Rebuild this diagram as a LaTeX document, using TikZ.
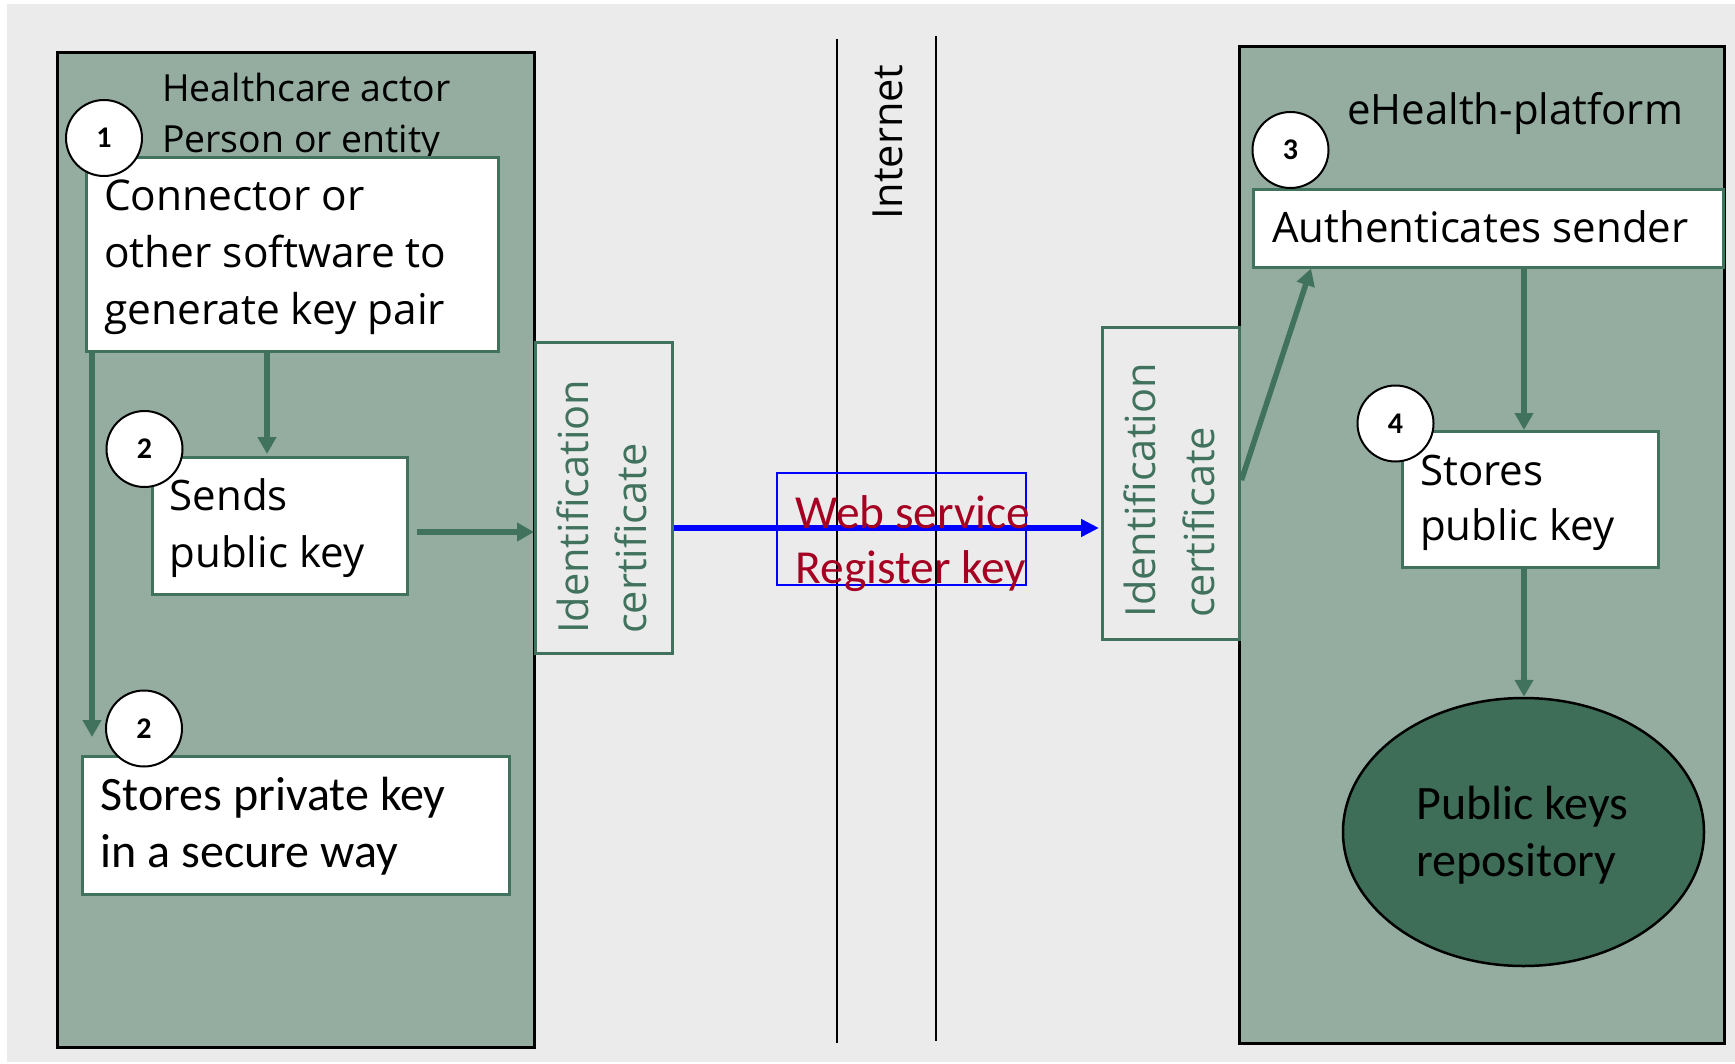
\documentclass[tikz,border=0pt]{standalone}
\usepackage{fontspec}
\setmainfont{Open Sans}
\newfontfamily\calfont{Carlito}
\usetikzlibrary{arrows.meta,shapes.geometric}
\definecolor{bgc}{HTML}{EBEBEB}
\definecolor{sage}{HTML}{95ADA1}
\definecolor{gline}{HTML}{41725E}
\definecolor{dgreen}{HTML}{3E6E58}
\definecolor{wred}{HTML}{A50021}
\newcommand\fl[1]{\rule{0pt}{#1pt}}
\begin{document}
\begin{tikzpicture}[x=1pt,y=-1pt,
 bigbox/.style={rectangle, draw=black, line width=2.5pt, fill=sage, anchor=north west, inner sep=0pt},
 wbox/.style={rectangle, draw=gline, line width=2.5pt, fill=white, anchor=north west, inner sep=0pt},
 idbox/.style={rectangle, draw=gline, line width=2.5pt, fill=bgc, anchor=north west, inner sep=0pt},
 num/.style={circle, draw=black, line width=2pt, fill=white, minimum size=76pt, inner sep=0pt, font=\calfont\bfseries\fontsize{30}{32}\selectfont},
 ml/.style={anchor=north west, inner sep=0pt, align=left},
 sl/.style={anchor=base west, inner sep=0pt},
 seg/.style={font=\fontsize{42}{57}\selectfont},
 garrow/.style={draw=gline, line width=5.5pt, -{Triangle[length=17pt,width=18pt]}},
 barrow/.style={draw=blue, line width=6pt, -{Triangle[length=18pt,width=17pt]}},
]
\useasboundingbox (0,0) rectangle (1735,1063);
\fill[white] (0,0) rectangle (1735,1063);
\fill[bgc] (7,4) rectangle (1735,1062);

% big boxes
\node[bigbox, minimum width=477pt, minimum height=995pt] (hc) at (56,51) {};
\node[bigbox, minimum width=485pt, minimum height=997pt] (eh) at (1238,45) {};

% identification certificate boxes
\node[idbox, minimum width=137pt, minimum height=311pt] (idL) at (534,341) {};
\node[idbox, minimum width=137pt, minimum height=312pt] (idR) at (1101,326) {};
\node[ml, rotate=90, text=gline, font=\fontsize{41.5}{57.5}\selectfont] (idLt) at (548.5,634) {\fl{40}Identification\\certificate};
\node[ml, rotate=90, text=gline, font=\fontsize{41.5}{59}\selectfont] (idRt) at (1115.5,617.5) {\fl{40}Identification\\certificate};

% internet lines
\coordinate (i1t) at (837,39);
\coordinate (i1b) at (837,1043);
\coordinate (i2t) at (936,36);
\coordinate (i2b) at (936,1041);
\draw[line width=2pt] (i1t) -- (i1b);
\draw[line width=2pt] (i2t) -- (i2b);
\node[sl, rotate=90, font=\fontsize{41.5}{57}\selectfont] (inet) at (902,220) {Internet};

% header texts
\node[ml, font=\fontsize{37.4}{51}\selectfont] (hct) at (162,65) {\fl{36}Healthcare actor\\Person or entity};
\node[sl, font=\fontsize{41.9}{57}\selectfont] (eht) at (1347,124.5) {eHealth-platform};

% white boxes
\node[wbox, minimum width=412pt, minimum height=194pt] (gen) at (85,156) {};
\node[wbox, minimum width=255pt, minimum height=137pt] (send) at (151,456) {};
\node[wbox, minimum width=427pt, minimum height=138pt] (priv) at (81,755) {};
\node[wbox, minimum width=470pt, minimum height=78pt] (auth) at (1252,188) {};
\node[wbox, minimum width=256pt, minimum height=136pt] (spk) at (1401,430) {};
\node[ellipse, draw=black, line width=2.5pt, fill=dgreen, minimum width=361pt, minimum height=268pt, inner sep=0pt] (repo) at (1523.5,832) {};

% box texts
\node[ml, font=\fontsize{42.4}{57}\selectfont] (gent) at (104,170) {\fl{40}Connector or\\other software to\\generate key pair};
\node[ml, seg] (sendt) at (169.5,470) {\fl{40}Sends\\public key};
\node[ml, font=\calfont\fontsize{48}{57}\selectfont] (privt) at (100.5,765) {\fl{45}Stores private key\\in a secure way};
\node[sl, seg] (autht) at (1272,242.5) {Authenticates sender};
\node[ml, font=\fontsize{42}{55}\selectfont] (spkt) at (1420,445) {\fl{40}Stores\\public key};
\node[ml, font=\calfont\fontsize{48}{57}\selectfont] (repot) at (1416,774) {\fl{45}Public keys\\repository};

% web service
\node[rectangle, draw=blue, line width=2pt, minimum width=249pt, minimum height=112pt, anchor=north west, inner sep=0pt] (wsbox) at (775.6,472) {};

% connectors
\coordinate (xa) at (267,0);
\coordinate (xb) at (92,0);
\coordinate (xd) at (1311,0);
\coordinate (xe) at (1524,0);
\coordinate (ya) at (0,532);
\coordinate (yb) at (0,528);
\coordinate (yc) at (0,483);
\draw[garrow, shorten >=2pt] (gen.south -| xa) -- (send.north -| xa);
\draw[garrow, shorten <=8pt] (send.east |- ya) -- (idL.west |- ya);
\draw[garrow, shorten >=18pt] (gen.south -| xb) -- (priv.north -| xb);
\draw[barrow, shorten >=2pt] (idL.east |- yb) -- (idR.west |- yb);
\draw[garrow, shorten <=3pt] (idR.east |- yc) -- (auth.south -| xd);
\draw[garrow] (auth.south -| xe) -- (spk.north -| xe);
\draw[garrow] (spk.south -| xe) -- (repo.north -| xe);

\node[ml, text=wred, font=\calfont\fontsize{47.4}{55}\selectfont] (wst) at (795.5,483) {\fl{45}Web service\\Register key};

% number circles
\node[num] (n1) at (104,138) {1};
\node[num] (n2a) at (144.5,449) {2};
\node[num] (n2b) at (144,728.5) {2};
\node[num] (n3) at (1290.5,150) {3};
\node[num] (n4) at (1395.5,423.5) {4};
\end{tikzpicture}
\end{document}
